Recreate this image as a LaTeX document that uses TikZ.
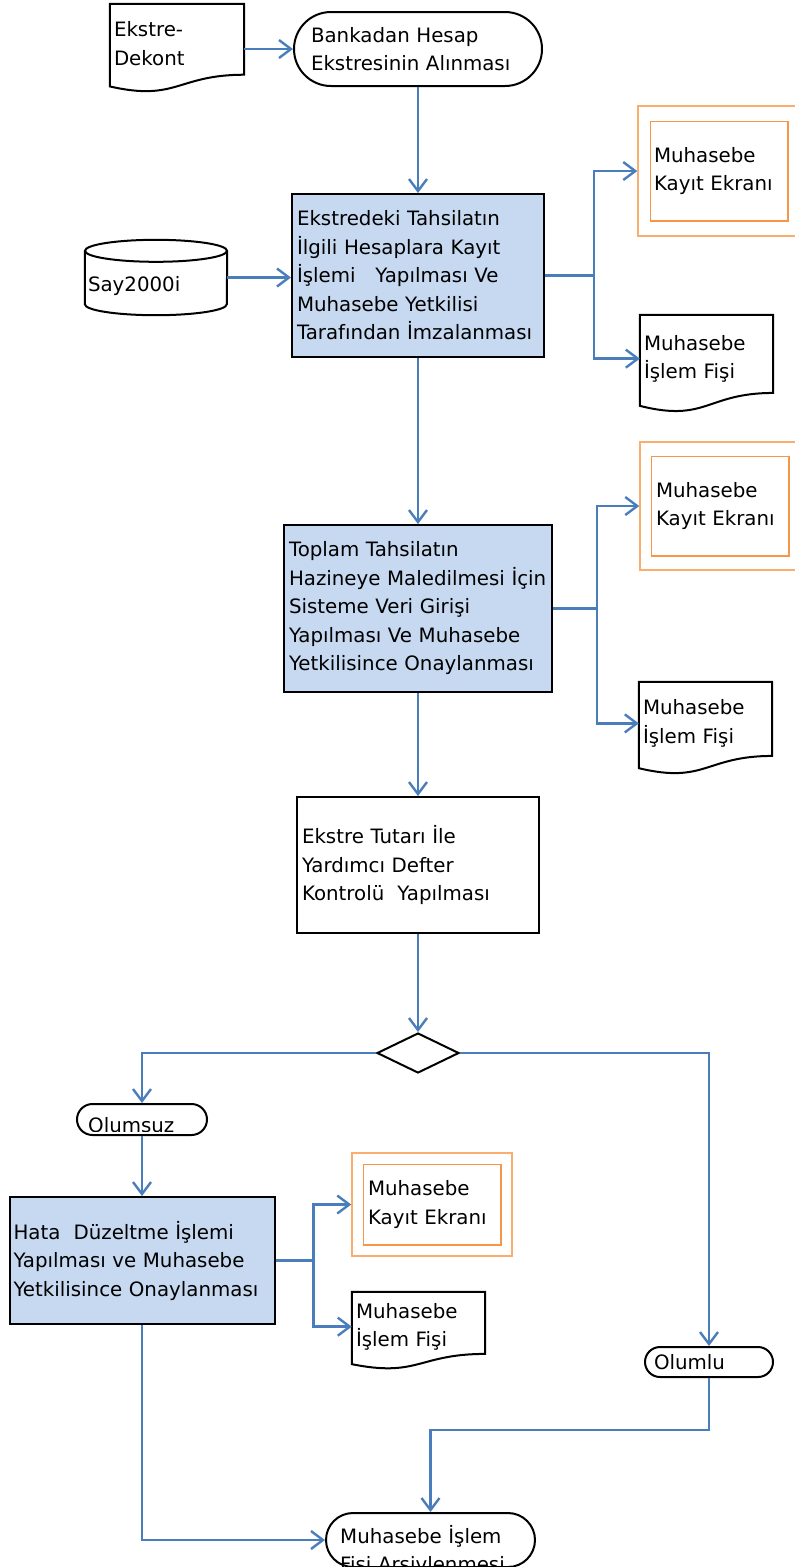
\documentclass[tikz,border=0pt]{standalone}
\usepackage{fontspec}
\setmainfont{DejaVu Sans}
\usetikzlibrary{arrows.meta}
\usetikzlibrary{calc}
\usetikzlibrary{shapes.geometric}

\definecolor{akis}{HTML}{4A7EBB}
\definecolor{kutu}{HTML}{C6D9F1}
\definecolor{turuncu}{HTML}{F79646}
\definecolor{acikturuncu}{HTML}{F9AE6E}

\newcommand\yazi{\fontsize{19.8}{28.5}\selectfont}
% belge (document) outline round a node
\newcommand\belge[1]{\draw[line width=2pt] (#1.north west) -- (#1.north east) -- ($(#1.south east)!0.109!(#1.north east)$) .. controls ($(#1.south)!0.109!(#1.north)$) and ($(#1.south)!-0.231!(#1.north)$) .. ($(#1.south west)!-0.038!(#1.north west)$) -- cycle;}

\begin{document}
\begin{tikzpicture}[x=1pt, y=-1pt, >={Straight Barb[length=12pt,width=18pt]},
  every node/.style={font=\yazi, align=left, inner ysep=0pt},
  proc/.style={draw=black, line width=2pt, fill=kutu},
  chk/.style={draw=black, line width=2pt},
  term/.style={draw=black, line width=2pt},
  ekran/.style={draw=acikturuncu, line width=1.5pt},
  karar/.style={diamond, draw=black, line width=2pt, inner sep=0pt},
  ok/.style={->, draw=akis, line width=2.4pt}]
\useasboundingbox (0,0) rectangle (795,1567);

% ust kisim
\node[minimum width=134pt, minimum height=79.2pt, text width=126pt, inner xsep=4pt] (ekstre) at (177,43.6) {Ekstre-\\Dekont};
\node[term, rounded corners=37pt, minimum width=248pt, minimum height=74pt, text width=214pt, inner xsep=17pt] (banka) at (418,49) {Bankadan Hesap\\Ekstresinin Alınması};
\node[proc, minimum width=252pt, minimum height=163pt, text width=242pt, inner xsep=5pt] (islem1) at (418,275.5) {Ekstredeki Tahsilatın\\İlgili Hesaplara Kayıt\\İşlemi\ \ \ Yapılması Ve\\Muhasebe Yetkilisi\\Tarafından İmzalanması};
\node[minimum width=142pt, minimum height=75pt, text width=136pt, inner xsep=3pt, text height=31pt, text depth=4pt] (say) at (156,277.5) {Say2000i};
\node[ekran, minimum width=162pt, minimum height=130pt, text width=130pt, inner xsep=16pt] (kayit1) at (719,171) {Muhasebe\\Kayıt Ekranı};
\node[minimum width=133pt, minimum height=87.3pt, text width=125pt, inner xsep=4pt] (fis1) at (706.5,358.65) {Muhasebe\\İşlem Fişi};

% orta kisim
\node[proc, minimum width=268pt, minimum height=167pt, text width=258pt, inner xsep=5pt] (islem2) at (418,608.5) {Toplam Tahsilatın\\Hazineye Maledilmesi İçin\\Sisteme Veri Girişi\\Yapılması Ve Muhasebe\\Yetkilisince Onaylanması};
\node[ekran, minimum width=160pt, minimum height=128pt, text width=128pt, inner xsep=16pt] (kayit2) at (720,506) {Muhasebe\\Kayıt Ekranı};
\node[minimum width=133pt, minimum height=82.8pt, text width=125pt, inner xsep=4pt] (fis2) at (705.5,723.4) {Muhasebe\\İşlem Fişi};
\node[chk, minimum width=242pt, minimum height=136pt, text width=232pt, inner xsep=5pt] (kontrol) at (418,865) {Ekstre Tutarı İle\\Yardımcı Defter\\Kontrolü\ \ Yapılması};
\node[karar, minimum width=82pt, minimum height=40pt] (karar) at (418,1053) {};

% alt kisim
\node[term, rounded corners=15.5pt, minimum width=130pt, minimum height=31pt] (olumsuz) at (142,1119.5) {};
\begin{scope}
\clip ([yshift=5pt]olumsuz.south west) rectangle (olumsuz.north east);
\node[anchor=base west, inner sep=0pt] (olumsuzyazi) at (88,1132) {Olumsuz};
\end{scope}
\node[term, rounded corners=15pt, minimum width=128pt, minimum height=30pt, text width=110pt, inner xsep=9pt] (olumlu) at (709,1362) {Olumlu};
\node[proc, minimum width=265pt, minimum height=127pt, text width=257pt, inner xsep=4pt] (hata) at (142,1260.5) {Hata\ \ Düzeltme İşlemi\\Yapılması ve Muhasebe\\Yetkilisince Onaylanması};
\node[ekran, minimum width=160pt, minimum height=103pt, text width=128pt, inner xsep=16pt] (kayit3) at (432,1204.5) {Muhasebe\\Kayıt Ekranı};
\node[minimum width=133pt, minimum height=69.3pt, text width=125pt, inner xsep=4pt] (fis3) at (418.5,1326.65) {Muhasebe\\İşlem Fişi};
\node[term, rounded corners=27pt, minimum width=209pt, minimum height=54pt] (arsiv) at (430.5,1540) {};
\node[anchor=north west, text width=190pt, inner xsep=0pt] (arsivyazi) at (340,1525) {Muhasebe İşlem\\Fişi Arşivlenmesi};

% sekiller
\foreach \b in {ekstre,fis1,fis2,fis3} \belge{\b};
\foreach \e/\dx/\dy in {kayit1/13/16, kayit2/12/15, kayit3/12/12}
  \draw[turuncu, line width=1.5pt] ([xshift=\dx pt,yshift=-\dy pt]\e.north west) rectangle ([xshift=-\dx pt,yshift=\dy pt]\e.south east);
\draw[line width=2pt] ([yshift=-11pt]say.north west) -- ([yshift=11pt]say.south west) arc[start angle=180, end angle=360, x radius=71pt, y radius=11pt] -- ([yshift=-11pt]say.north east);
\draw[line width=2pt] ([yshift=-11pt]say.north) ellipse [x radius=71pt, y radius=11pt];

% baglantilar
\draw[ok] (banka.west -| ekstre.east) -- (banka.west);
\draw[ok] (banka.south) -- (islem1.north);
\draw[ok] (say.east) -- (say.east -| islem1.west);
\coordinate (dal1) at ([xshift=49pt]islem1.east);
\draw[ok] (islem1.east) -- (dal1) |- (kayit1.west);
\draw[ok] (dal1) |- (fis1.west);
\draw[ok] (islem1.south) -- (islem2.north);
\coordinate (dal2) at ([xshift=44pt]islem2.east);
\draw[ok] (islem2.east) -- (dal2) |- (kayit2.west);
\draw[ok] (dal2) |- (fis2.west);
\draw[ok] (islem2.south) -- (kontrol.north);
\draw[ok] (kontrol.south) -- (karar.north);
\draw[ok] (karar.west) -| (olumsuz.north);
\draw[ok] (karar.east) -| (olumlu.north);
\draw[ok] (olumsuz.south) -- (hata.north);
\coordinate (dal3) at ([xshift=38pt]hata.east);
\draw[ok] (hata.east) -- (dal3) |- (kayit3.west);
\draw[ok] (dal3) |- (fis3.west);
\draw[ok] (hata.south) |- (arsiv.west);
\coordinate (donus) at (709,1430);
\draw[ok] (olumlu.south) -- (donus) -| (arsiv.north);
\end{tikzpicture}
\end{document}
